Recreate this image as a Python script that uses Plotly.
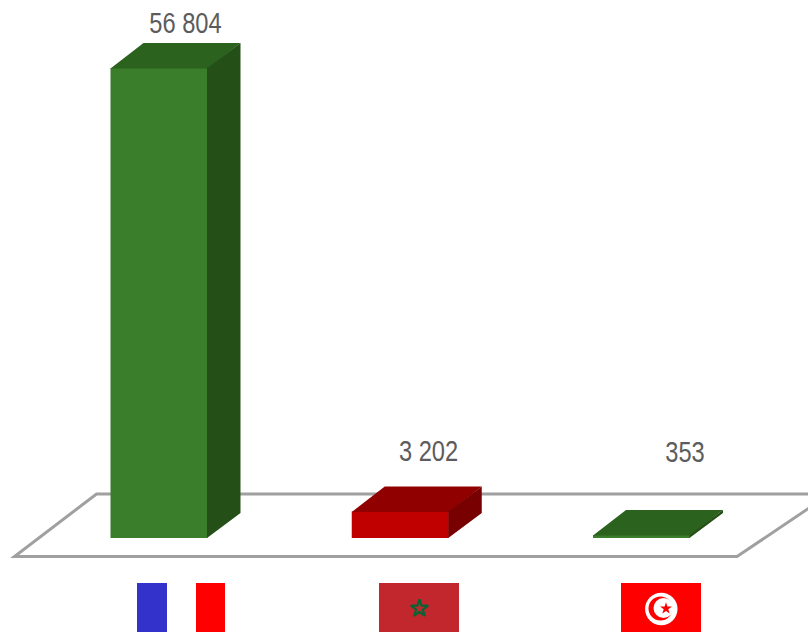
import plotly.graph_objects as go

# ---- data ----
countries = ["France", "Maroc", "Tunisie"]
values = [56804, 3202, 353]
value_labels = ["56 804", "3 202", "353"]

# ---- styles ----
front_colors = ["#3a7d2a", "#c00000", "#3a7d2a"]
top_colors = ["#2b621d", "#910000", "#2b621d"]
side_colors = ["#245018", "#790000", "#245018"]

W, H = 808, 632
PX_PER_VALUE = 470 / 56804          # vertical scale
BASE_PX = 538                       # pixel row of value 0
SLOT_PX = 241.25                    # distance between bars
FIRST_PX = 159                      # pixel column of the first bar centre
BAR_W = 97 / SLOT_PX
DX = 33 / SLOT_PX
DY = 25 / PX_PER_VALUE
SEAM_X = 0.5 / SLOT_PX              # faces overlap slightly to hide antialiased seams
SEAM_Y = 0.5 / PX_PER_VALUE

x_range = [-FIRST_PX / SLOT_PX, (W - FIRST_PX) / SLOT_PX]
y_range = [-(H - BASE_PX) / PX_PER_VALUE, BASE_PX / PX_PER_VALUE]

fig = go.Figure()
xs = list(range(len(values)))

fig.add_trace(go.Bar(x=xs, y=values, width=BAR_W, marker=dict(color=front_colors, line=dict(width=0)),
                     hoverinfo="skip", showlegend=False))

for x, v, ct, cs in zip(xs, values, top_colors, side_colors):
    l, r = x - BAR_W / 2, x + BAR_W / 2
    fig.add_trace(go.Scatter(x=[l, r, r + DX, l + DX, l],
                             y=[v - SEAM_Y, v - SEAM_Y, v + DY, v + DY, v - SEAM_Y],
                             mode="lines", fill="toself", fillcolor=ct, line=dict(width=0),
                             hoverinfo="skip", showlegend=False))
    fig.add_trace(go.Scatter(x=[r - SEAM_X, r + DX, r + DX, r - SEAM_X, r - SEAM_X],
                             y=[0, DY, v + DY, v, 0],
                             mode="lines", fill="toself", fillcolor=cs, line=dict(width=0),
                             hoverinfo="skip", showlegend=False))

# ---- overlay pixel axes for decoration (floor, flags, labels) ----
label_px_x = [185.5, 428.5, 685]
label_px_y = [26, 454, 455]
fig.add_trace(go.Scatter(x=label_px_x, y=label_px_y, text=value_labels, mode="text",
                         textposition="middle center",
                         textfont=dict(family="Liberation Sans, Arial", size=29, color="#5c5c5c"),
                         xaxis="x2", yaxis="y2", hoverinfo="skip", showlegend=False))

# flag emblems
fig.add_trace(go.Scatter(x=[419.5], y=[608.5], mode="markers",
                         marker=dict(symbol="star-open", size=13, color="#0a6233", line=dict(width=2.2, color="#0a6233")),
                         xaxis="x2", yaxis="y2", hoverinfo="skip", showlegend=False))
fig.add_trace(go.Scatter(x=[666], y=[608.5], mode="markers",
                         marker=dict(symbol="star", size=9, color="#ff0000", line=dict(width=0)),
                         xaxis="x2", yaxis="y2", hoverinfo="skip", showlegend=False))


def rect(x0, y0, x1, y1, color):
    return dict(type="rect", xref="x2", yref="y2", x0=x0, y0=y0, x1=x1, y1=y1,
                fillcolor=color, line=dict(width=0), layer="below")


def circle(cx, cy, r, color):
    return dict(type="circle", xref="x2", yref="y2", x0=cx - r, x1=cx + r, y0=cy - r, y1=cy + r,
                fillcolor=color, line=dict(width=0), layer="below")


shapes = [
    dict(type="path", xref="x2", yref="y2", path="M 96.5 494 L 830 494 L 737 556.5 L 14.5 556.5 Z",
         fillcolor="#ffffff", line=dict(color="#a0a0a0", width=3), layer="below"),
    rect(137, 583, 167, 632, "#3333cc"),
    rect(196, 583, 225, 632, "#ff0000"),
    rect(379, 583, 459, 632, "#c1272d"),
    rect(621, 583, 701, 632, "#ff0000"),
    circle(661.3, 609, 16.2, "#ffffff"),
    circle(660.5, 608.5, 12, "#ff0000"),
    circle(663.5, 608, 10, "#ffffff"),
]

fig.update_layout(
    width=W, height=H, margin=dict(l=0, r=0, t=0, b=0),
    paper_bgcolor="white", plot_bgcolor="white", showlegend=False,
    xaxis=dict(range=x_range, visible=False, fixedrange=True),
    yaxis=dict(range=y_range, visible=False, fixedrange=True),
    xaxis2=dict(range=[0, W], visible=False, overlaying="x", fixedrange=True),
    yaxis2=dict(range=[H, 0], visible=False, overlaying="y", fixedrange=True),
    shapes=shapes,
)
narrow_labels = """
document.body.style.margin='0';
document.querySelectorAll('.textpoint text').forEach(function (t) {
    t.setAttribute('lengthAdjust', 'spacingAndGlyphs');
    t.setAttribute('textLength', String(t.getComputedTextLength() * 0.815));
});
"""
fig.write_html("out.html", config=dict(displayModeBar=False), post_script=narrow_labels)
